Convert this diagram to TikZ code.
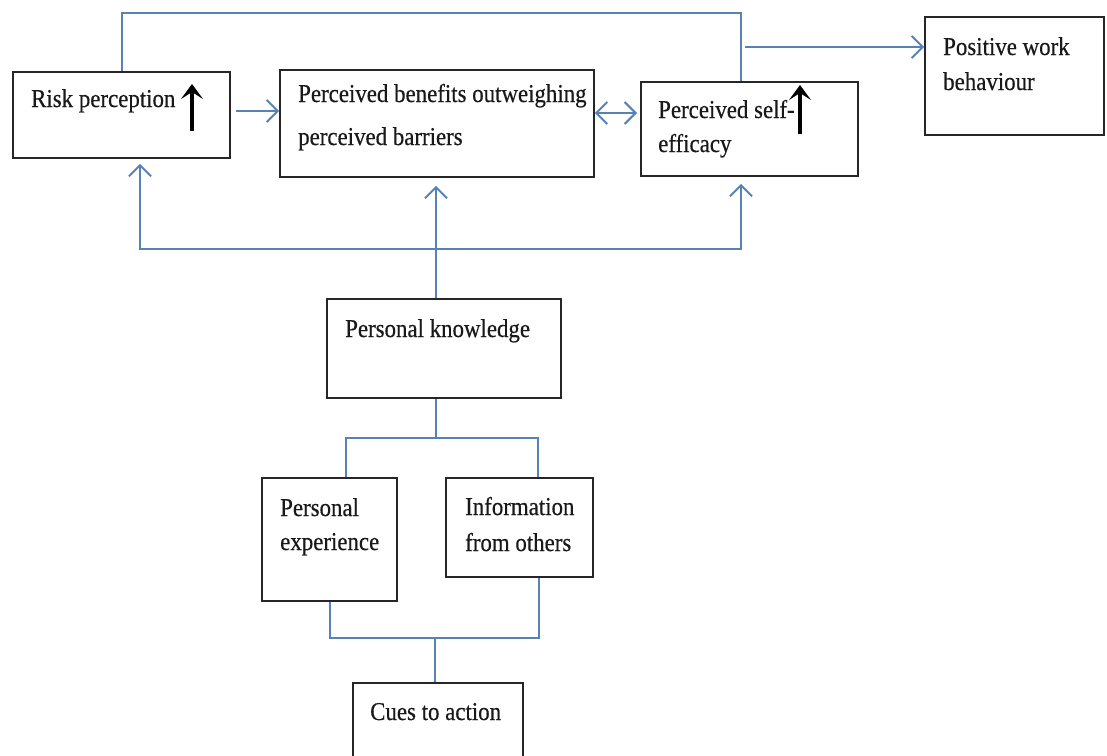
\documentclass[tikz,border=0pt]{standalone}
\usepackage{fontspec}
\setmainfont[FakeStretch=0.89,FakeBold=0.4]{Liberation Serif}
\usetikzlibrary{arrows.meta}

\definecolor{linkblue}{RGB}{88,130,180}
\definecolor{boxline}{RGB}{38,38,38}

\tikzset{
  box/.style={draw=boxline, line width=1.8pt, inner sep=0pt, fill=white},
  lbl/.style={anchor=base west, inner sep=0pt, align=left, text=black!90,
              font=\fontsize{25.7}{36}\selectfont},
  link/.style={draw=linkblue, line width=2pt},
  arr/.style={link, -{Straight Barb[length=11pt,width=22pt]}},
  dblarr/.style={link, {Straight Barb[length=11pt,width=22pt]}-{Straight Barb[length=11pt,width=22pt]}},
  risemark/.style={draw=black, line width=3.2pt, -{Stealth[length=15pt,width=22pt,inset=7pt]}},
}

\begin{document}
\begin{tikzpicture}[x=1pt,y=-1pt]
\useasboundingbox (0,0) rectangle (1107,755);
\clip (0,0) rectangle (1107,755);
\fill[white] (0,0) rectangle (1107,755);

% ---- boxes ----
\node[box, minimum width=217pt, minimum height=86pt]  (risk)     at (121.5,115) {};
\node[box, minimum width=314pt, minimum height=107pt] (benefits) at (437,123.5) {};
\node[box, minimum width=217pt, minimum height=94pt]  (selfeff)  at (749.5,129) {};
\node[box, minimum width=179pt, minimum height=118pt] (positive) at (1014.5,76) {};
\node[box, minimum width=234pt, minimum height=99pt]  (pk)       at (444,348.5) {};
\node[box, minimum width=135pt, minimum height=123pt] (persexp)  at (329.5,539.5) {};
\node[box, minimum width=147pt, minimum height=99pt]  (info)     at (519.5,527.5) {};
\node[box, minimum width=170pt, minimum height=84pt]  (cues)     at (438,725) {};

% ---- box texts (anchored at the baseline of the last line) ----
\node[lbl] (risktxt) at (31,107) {Risk perception};
\node[lbl, font=\fontsize{25.7}{43}\selectfont] (benefitstxt) at (298,145)
  {Perceived benefits outweighing\\perceived barriers};
\node[lbl, font=\fontsize{25.7}{34}\selectfont] (selfefftxt) at (658,152)
  {Perceived self-\\efficacy};
\node[lbl, font=\fontsize{25.7}{35}\selectfont] (positivetxt) at (943,90)
  {Positive work\\behaviour};
\node[lbl] (pktxt) at (345,337) {Personal knowledge};
\node[lbl, font=\fontsize{25.7}{34}\selectfont] (persexptxt) at (280,550)
  {Personal\\experience};
\node[lbl] (infotxt) at (465,551) {Information\\from others};
\node[lbl] (cuestxt) at (370,720) {Cues to action};

% ---- upward marks ----
\draw[risemark] (192,131) -- (192,84);
\draw[risemark] (800,134) -- (800,85);

% ---- top rail and outcome arrow ----
\coordinate (topcorner) at (741,13);
\draw[link] (risk.north) |- (topcorner) -- (topcorner |- selfeff.north);
\coordinate (outstart) at (745,47);
\draw[arr] (outstart) -- (outstart -| positive.west);

% ---- links between the top boxes ----
\coordinate (rbrow) at (236,111);
\draw[arr] (rbrow) -- (rbrow -| benefits.west);
\coordinate (bsrow) at (637,113);
\draw[dblarr] (bsrow -| benefits.east) -- (bsrow);

% ---- knowledge feeding the three beliefs ----
\coordinate (kmid) at (436,249);
\coordinate (kleft) at (140,249);
\coordinate (kright) at (741,249);
\draw[arr] (kmid |- pk.north) -- ([yshift=-8pt]kmid |- benefits.south);
\draw[dblarr] ([yshift=-5pt]kleft |- risk.south) -- (kleft) -- (kright)
  -- ([yshift=-7pt]kright |- selfeff.south);

% ---- sources of knowledge ----
\coordinate (smid) at (436,438);
\coordinate (sleft) at (346,438);
\coordinate (sright) at (538,438);
\draw[link] (smid |- pk.south) -- (smid);
\draw[link] (sleft |- persexp.north) |- (sright) -- (sright |- info.north);

% ---- cues to action ----
\coordinate (cmid) at (435,638);
\coordinate (cleft) at (330,638);
\coordinate (cright) at (539,638);
\draw[link] (cleft |- persexp.south) |- (cright) -- (cright |- info.south);
\draw[link] (cmid) -- (cmid |- cues.north);
\end{tikzpicture}
\end{document}
